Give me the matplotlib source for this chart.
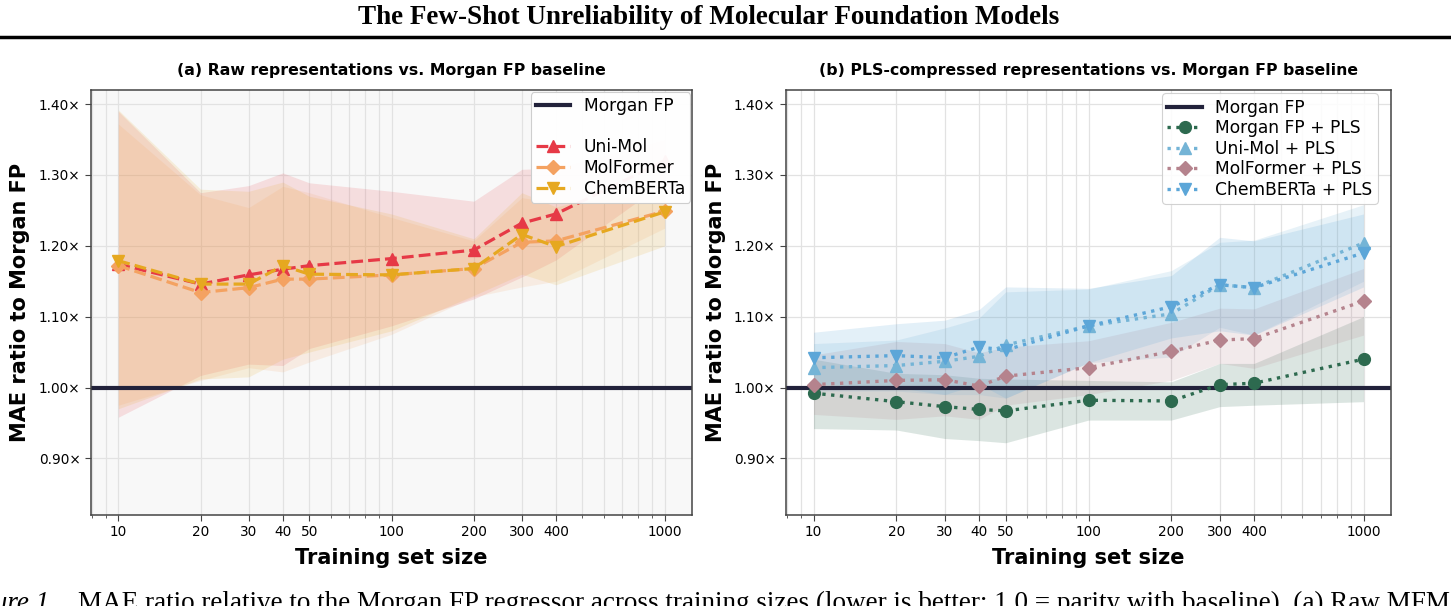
import matplotlib
matplotlib.use("Agg")
import matplotlib.pyplot as plt
from matplotlib.lines import Line2D
from matplotlib.ticker import FixedLocator, FuncFormatter, NullFormatter, LogLocator

# training sizes (x axis, log scale)
sizes = [10, 20, 30, 40, 50, 100, 200, 300, 400, 1000]
size_labels = ["10", "20", "30", "40", "50", "100", "200", "300", "400", "1000"]
ratio_ticks = [0.90, 1.00, 1.10, 1.20, 1.30, 1.40]

# --- (a) raw representations: mean MAE ratio and band ---
unimol = [1.174, 1.146, 1.159, 1.167, 1.172, 1.182, 1.194, 1.232, 1.245, 1.320]
unimol_lo = [0.958, 1.017, 1.033, 1.031, 1.055, 1.087, 1.125, 1.156, 1.180, 1.290]
unimol_hi = [1.390, 1.275, 1.285, 1.303, 1.289, 1.277, 1.263, 1.308, 1.310, 1.350]
molformer = [1.172, 1.134, 1.141, 1.153, 1.153, 1.159, 1.168, 1.205, 1.207, 1.249]
molformer_lo = [0.975, 1.010, 1.028, 1.022, 1.036, 1.075, 1.128, 1.142, 1.150, 1.225]
molformer_hi = [1.372, 1.272, 1.254, 1.284, 1.275, 1.240, 1.207, 1.268, 1.261, 1.272]
chemberta = [1.179, 1.146, 1.146, 1.172, 1.160, 1.159, 1.168, 1.216, 1.199, 1.248]
chemberta_lo = [0.970, 1.012, 1.015, 1.040, 1.050, 1.080, 1.130, 1.160, 1.145, 1.200]
chemberta_hi = [1.392, 1.280, 1.277, 1.290, 1.270, 1.245, 1.210, 1.275, 1.255, 1.290]

# --- (b) PLS-compressed representations ---
morgan_pls = [0.992, 0.980, 0.973, 0.969, 0.967, 0.982, 0.981, 1.004, 1.006, 1.040]
morgan_pls_lo = [0.942, 0.940, 0.928, 0.925, 0.922, 0.954, 0.954, 0.973, 0.975, 0.980]
morgan_pls_hi = [1.040, 1.020, 1.018, 1.013, 1.012, 1.010, 1.008, 1.034, 1.034, 1.100]
unimol_pls = [1.028, 1.031, 1.037, 1.044, 1.060, 1.087, 1.104, 1.145, 1.141, 1.204]
unimol_pls_lo = [0.995, 0.995, 0.990, 0.990, 0.985, 1.035, 1.043, 1.085, 1.074, 1.150]
unimol_pls_hi = [1.062, 1.067, 1.084, 1.098, 1.135, 1.139, 1.165, 1.205, 1.208, 1.258]
molformer_pls = [1.004, 1.010, 1.011, 1.002, 1.016, 1.028, 1.051, 1.067, 1.069, 1.122]
molformer_pls_lo = [0.962, 0.955, 0.960, 0.955, 0.975, 0.990, 1.010, 1.034, 1.027, 1.074]
molformer_pls_hi = [1.046, 1.065, 1.062, 1.049, 1.057, 1.066, 1.092, 1.112, 1.111, 1.168]
chemberta_pls = [1.042, 1.045, 1.042, 1.057, 1.053, 1.087, 1.114, 1.145, 1.141, 1.190]
chemberta_pls_lo = [1.005, 1.000, 0.990, 1.005, 0.985, 1.035, 1.070, 1.080, 1.074, 1.142]
chemberta_pls_hi = [1.078, 1.090, 1.095, 1.110, 1.142, 1.140, 1.158, 1.212, 1.207, 1.245]

C_BASE = "#22223b"
GRID = "#e2e2e2"


def style_axes(ax, title):
    ax.set_xscale("log")
    ax.set_xlim(10 ** 0.9, 10 ** 3.1)
    ax.set_ylim(0.82, 1.42)
    ax.xaxis.set_major_locator(FixedLocator(sizes))
    ax.xaxis.set_major_formatter(FuncFormatter(
        lambda v, p: size_labels[sizes.index(int(round(v)))] if int(round(v)) in sizes else ""))
    ax.xaxis.set_minor_locator(LogLocator(base=10, subs=range(1, 10)))
    ax.xaxis.set_minor_formatter(NullFormatter())
    ax.yaxis.set_major_locator(FixedLocator(ratio_ticks))
    ax.yaxis.set_major_formatter(FuncFormatter(lambda v, p: f"{v:.2f}\u00d7"))
    ax.tick_params(axis="both", which="major", labelsize=9.8, length=4, color="#444444")
    ax.tick_params(axis="x", which="minor", length=2, color="#444444")
    ax.grid(True, which="major", color=GRID, lw=0.9, zorder=0)
    ax.grid(True, which="minor", axis="x", color=GRID, lw=0.9, zorder=0)
    ax.set_axisbelow(True)
    for s in ax.spines.values():
        s.set_color("#444444")
        s.set_linewidth(1.1)
    ax.set_xlabel("Training set size", fontsize=15, fontweight="bold", labelpad=6)
    ax.set_ylabel("MAE ratio to Morgan FP", fontsize=15, fontweight="bold", labelpad=6)
    ax.set_title(title, fontsize=11.3, fontweight="bold", pad=11)
    ax.axhline(1.0, color=C_BASE, lw=3, zorder=2)


fig = plt.figure(figsize=(14.51, 6.06), dpi=100)
ax_a = fig.add_axes([91 / 1451, 1 - 515 / 606, 601 / 1451, 425 / 606])
ax_b = fig.add_axes([786 / 1451, 1 - 515 / 606, 605 / 1451, 425 / 606])

# ---- panel (a) ----
ax_a.set_facecolor("#f8f8f8")
raw = [
    ("Uni-Mol", unimol, unimol_lo, unimol_hi, "#e63946", "^"),
    ("MolFormer", molformer, molformer_lo, molformer_hi, "#f4a261", "D"),
    ("ChemBERTa", chemberta, chemberta_lo, chemberta_hi, "#e6a820", "v"),
]
handles = [Line2D([], [], color=C_BASE, lw=3, label="Morgan FP"),
           Line2D([], [], color="none", label=" ")]
for name, m, lo, hi, c, mk in raw:
    ax_a.fill_between(sizes, lo, hi, color=c, alpha=0.14, lw=0, zorder=1)
for name, m, lo, hi, c, mk in raw:
    ms = 7 if mk == "D" else 9
    ln, = ax_a.plot(sizes, m, ls="--", lw=2.3, color=c, marker=mk, ms=ms, label=name, zorder=3)
    handles.append(ln)
style_axes(ax_a, "(a) Raw representations vs. Morgan FP baseline")
leg_a = ax_a.legend(handles=handles, loc="upper right", bbox_to_anchor=(0.997, 0.995), fontsize=12.3,
                    framealpha=0.96, edgecolor="#cccccc", borderaxespad=0.0,
                    handletextpad=0.8, labelspacing=0.15, borderpad=0.3)
leg_a.get_frame().set_linewidth(0.8)

# ---- panel (b) ----
pls = [
    ("Morgan FP + PLS", morgan_pls, morgan_pls_lo, morgan_pls_hi, "#2d6a4f", "o"),
    ("Uni-Mol + PLS", unimol_pls, unimol_pls_lo, unimol_pls_hi, "#74b4d6", "^"),
    ("MolFormer + PLS", molformer_pls, molformer_pls_lo, molformer_pls_hi, "#b5838d", "D"),
    ("ChemBERTa + PLS", chemberta_pls, chemberta_pls_lo, chemberta_pls_hi, "#5ca6d8", "v"),
]
handles_b = [Line2D([], [], color=C_BASE, lw=3, label="Morgan FP")]
for name, m, lo, hi, c, mk in pls:
    ax_b.fill_between(sizes, lo, hi, color=c, alpha=0.17, lw=0, zorder=1)
for name, m, lo, hi, c, mk in pls:
    ms = 7 if mk == "D" else 8.5
    ln, = ax_b.plot(sizes, m, ls=":", lw=2.4, color=c, marker=mk, ms=ms, label=name, zorder=3)
    handles_b.append(ln)
style_axes(ax_b, "(b) PLS-compressed representations vs. Morgan FP baseline")
leg_b = ax_b.legend(handles=handles_b, loc="upper right", bbox_to_anchor=(0.978, 0.992), fontsize=12.3,
                    framealpha=0.88, edgecolor="#cccccc", borderaxespad=0.0,
                    handletextpad=0.8, labelspacing=0.15, borderpad=0.3)
leg_b.get_frame().set_linewidth(0.8)

# ---- page header and caption ----
fig.text(709 / 1451, 1 - 18 / 606, "The Few-Shot Unreliability of Molecular Foundation Models",
         ha="center", va="center", fontsize=19.5, fontweight="bold", family="Liberation Serif")
fig.add_artist(Line2D([0, 1], [1 - 37 / 606, 1 - 37 / 606], color="black", lw=2.5,
                      transform=fig.transFigure))
fig.text(56 / 1451, 1 - 610 / 606, "Figure 1.", ha="right", va="baseline", fontsize=19.5,
         style="italic", family="Liberation Serif")
fig.text(78 / 1451, 1 - 610 / 606,
         "MAE ratio relative to the Morgan FP regressor across training sizes "
         "(lower is better; 1.0 = parity with baseline). (a) Raw MFM",
         ha="left", va="baseline", fontsize=19.5, family="Liberation Serif")

fig.savefig("out.png", dpi=100)
